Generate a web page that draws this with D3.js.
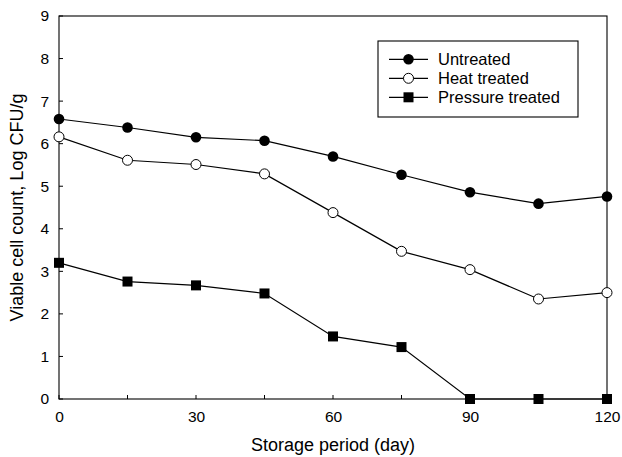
<!DOCTYPE html>
<html><head><meta charset="utf-8">
<script src="https://cdn.jsdelivr.net/npm/d3@7"></script>
<style>body{margin:0;background:#fff}svg{display:block}text{font-family:"Liberation Sans",Arial,sans-serif;fill:#000}</style>
</head><body><svg id="c" width="622" height="457"></svg>
<script>
const days = [0, 15, 30, 45, 60, 75, 90, 105, 120];
const untreated = [6.58, 6.38, 6.15, 6.07, 5.70, 5.27, 4.86, 4.59, 4.76];
const heatTreated = [6.16, 5.61, 5.51, 5.29, 4.38, 3.47, 3.04, 2.35, 2.50];
const pressureTreated = [3.20, 2.76, 2.67, 2.48, 1.47, 1.22, 0, 0, 0];
const seriesNames = ["Untreated", "Heat treated", "Pressure treated"];
const xTickLabels = [0, 30, 60, 90, 120];
const yTickLabels = [0, 1, 2, 3, 4, 5, 6, 7, 8, 9];

const svg = d3.select("#c");
const L = 59, R = 607, T = 16, B = 399;
const x = d3.scaleLinear().domain([0, 120]).range([L, R]);
const y = d3.scaleLinear().domain([0, 9]).range([B, T]);

// frame
svg.append("rect").attr("x", L).attr("y", T).attr("width", R - L).attr("height", B - T)
  .attr("fill", "none").attr("stroke", "#000").attr("stroke-width", 1.1);

// axes
const xAxis = d3.axisBottom(x).tickValues(xTickLabels).tickSize(0).tickPadding(12).tickFormat(d3.format("d"));
const gx = svg.append("g").attr("transform", `translate(0,${B})`).call(xAxis);
gx.select(".domain").remove();
gx.selectAll("text").attr("font-size", 15.5).attr("font-family", "Liberation Sans, Arial, sans-serif");
svg.append("g").selectAll("line").data(days).join("line")
  .attr("x1", d => x(d)).attr("x2", d => x(d)).attr("y1", B).attr("y2", B - 4)
  .attr("stroke", "#000");

const yAxis = d3.axisLeft(y).tickValues(yTickLabels).tickSize(0).tickPadding(10).tickFormat(d3.format("d"));
const gy = svg.append("g").attr("transform", `translate(${L},0)`).call(yAxis);
gy.select(".domain").remove();
gy.selectAll("text").attr("font-size", 15.5).attr("font-family", "Liberation Sans, Arial, sans-serif");
svg.append("g").selectAll("line").data(yTickLabels).join("line")
  .attr("x1", L).attr("x2", L + 4).attr("y1", d => y(d)).attr("y2", d => y(d))
  .attr("stroke", "#000");

svg.append("text").attr("x", 333).attr("y", 451).attr("text-anchor", "middle")
  .attr("font-size", 18).text("Storage period (day)");
svg.append("text").attr("transform", `translate(23,${(T + B) / 2}) rotate(-90)`).attr("text-anchor", "middle")
  .attr("font-size", 18).text("Viable cell count, Log CFU/g");

const data = [untreated, heatTreated, pressureTreated];
const line = d3.line().x((d, i) => x(days[i])).y(d => y(d));

function marker(g, k, cx, cy) {
  if (k === 0) g.append("circle").attr("cx", cx).attr("cy", cy).attr("r", 5.3).attr("fill", "#000");
  else if (k === 1) g.append("circle").attr("cx", cx).attr("cy", cy).attr("r", 5).attr("fill", "#fff").attr("stroke", "#000").attr("stroke-width", 1);
  else g.append("rect").attr("x", cx - 5).attr("y", cy - 5).attr("width", 10).attr("height", 10).attr("fill", "#000");
}

data.forEach((vals, k) => {
  svg.append("path").datum(vals).attr("d", line).attr("fill", "none").attr("stroke", "#000").attr("stroke-width", 1.2);
  const g = svg.append("g");
  vals.forEach((v, i) => marker(g, k, x(days[i]), y(v)));
});

// legend
const lg = svg.append("g");
lg.append("rect").attr("x", 378).attr("y", 41).attr("width", 200).attr("height", 76)
  .attr("fill", "#fff").attr("stroke", "#000").attr("stroke-width", 1.1);
seriesNames.forEach((name, k) => {
  const ly = 59.3 + k * 19;
  lg.append("line").attr("x1", 389).attr("x2", 428).attr("y1", ly).attr("y2", ly).attr("stroke", "#000").attr("stroke-width", 1.2);
  marker(lg, k, 408.5, ly);
  lg.append("text").attr("x", 438).attr("y", ly + 5.8).attr("font-size", 16.5).text(name);
});
</script></body></html>
